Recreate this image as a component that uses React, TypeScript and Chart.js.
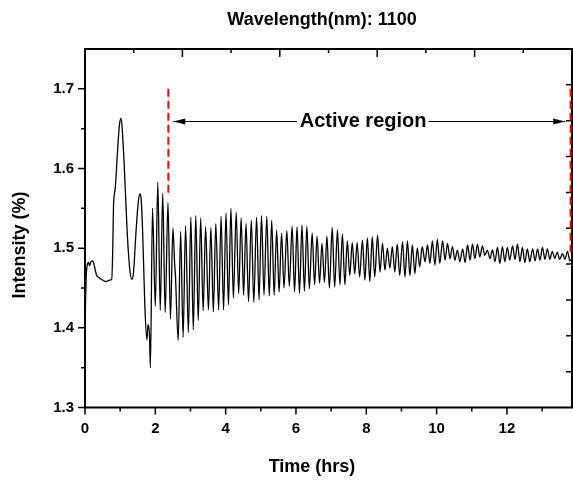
import React, { useEffect, useRef } from "react";
import { Chart, registerables } from "chart.js";
Chart.register(...registerables);

// ---------- data ----------
const timeHrs = [
  0, 0.03, 0.06, 0.1, 0.13, 0.17, 0.22, 0.27, 0.33, 0.4, 0.5, 0.6, 0.7, 0.76, 0.79, 0.81, 0.86, 0.93, 0.98, 1.02,
  1.05, 1.12, 1.2, 1.27, 1.33, 1.38, 1.45, 1.52, 1.565, 1.59, 1.64, 1.7, 1.76, 1.79, 1.83, 1.86, 1.92, 2.0, 2.07, 2.14,
  2.21, 2.28, 2.36, 2.43, 2.5, 2.55, 2.57, 2.65, 2.72, 2.79, 2.86, 2.94, 3.01, 3.08, 3.15, 3.22, 3.29, 3.36, 3.43, 3.51,
  3.58, 3.65, 3.72, 3.8, 3.87, 3.94, 4.01, 4.08, 4.15, 4.22, 4.3, 4.37, 4.44, 4.51, 4.58, 4.65, 4.73, 4.8, 4.88, 4.95,
  5.02, 5.09, 5.17, 5.24, 5.31, 5.38, 5.45, 5.52, 5.59, 5.66, 5.74, 5.81, 5.89, 5.96, 6.03, 6.1, 6.17, 6.24, 6.31, 6.38,
  6.46, 6.53, 6.6, 6.67, 6.74, 6.81, 6.88, 6.95, 7.03, 7.1, 7.18, 7.25, 7.32, 7.39, 7.46, 7.53, 7.6, 7.67, 7.74, 7.81,
  7.89, 7.96, 8.03, 8.1, 8.17, 8.24, 8.32, 8.39, 8.46, 8.53, 8.6, 8.67, 8.74, 8.81, 8.88, 8.95, 9.03, 9.1, 9.17, 9.24,
  9.31, 9.38, 9.45, 9.52, 9.59, 9.67, 9.74, 9.81, 9.88, 9.95, 10.02, 10.09, 10.17, 10.24, 10.31, 10.38, 10.45, 10.52, 10.59, 10.66,
  10.74, 10.81, 10.88, 10.95, 11.02, 11.09, 11.16, 11.23, 11.3, 11.37, 11.44, 11.52, 11.59, 11.66, 11.73, 11.8, 11.87, 11.94, 12.01, 12.08,
  12.16, 12.23, 12.3, 12.37, 12.44, 12.51, 12.58, 12.65, 12.73, 12.8, 12.87, 12.94, 13.01, 13.08, 13.15, 13.22, 13.29, 13.36, 13.43, 13.5,
  13.58, 13.65, 13.72, 13.79, 13.85,
];
const intensity = [
  1.40, 1.46, 1.478, 1.482, 1.478, 1.483, 1.484, 1.477, 1.466, 1.463, 1.46, 1.458, 1.46, 1.461, 1.5, 1.552, 1.575, 1.625, 1.655, 1.663,
  1.655, 1.6, 1.52, 1.475, 1.461, 1.47, 1.52, 1.56, 1.568, 1.565, 1.52, 1.43, 1.385, 1.404, 1.395, 1.35, 1.55, 1.427, 1.583, 1.422,
  1.569, 1.419, 1.557, 1.411, 1.525, 1.48, 1.468, 1.384, 1.521, 1.388, 1.528, 1.394, 1.539, 1.3975, 1.541, 1.409, 1.538, 1.421, 1.527, 1.4225,
  1.526, 1.42, 1.531, 1.4225, 1.54, 1.4225, 1.544, 1.429, 1.55, 1.437, 1.545, 1.443, 1.538, 1.441, 1.531, 1.433, 1.535, 1.432, 1.539, 1.435,
  1.541, 1.441, 1.54, 1.44, 1.535, 1.441, 1.5225, 1.445, 1.519, 1.45, 1.522, 1.452, 1.5275, 1.445, 1.527, 1.443, 1.529, 1.446, 1.5275, 1.449,
  1.519, 1.454, 1.515, 1.456, 1.506, 1.457, 1.515, 1.45, 1.526, 1.451, 1.523, 1.454, 1.518, 1.454, 1.509, 1.466, 1.507, 1.468, 1.507, 1.464,
  1.51, 1.46, 1.513, 1.458, 1.514, 1.464, 1.516, 1.47, 1.506, 1.4725, 1.5, 1.4746, 1.502, 1.47, 1.505, 1.466, 1.508, 1.464, 1.509, 1.466,
  1.504, 1.468, 1.5, 1.4767, 1.502, 1.483, 1.504, 1.481, 1.509, 1.479, 1.511, 1.481, 1.509, 1.485, 1.506, 1.487, 1.502, 1.485, 1.4975, 1.483,
  1.499, 1.482, 1.504, 1.485, 1.505, 1.487, 1.505, 1.489, 1.503, 1.491, 1.4975, 1.487, 1.498, 1.483, 1.501, 1.481, 1.502, 1.483, 1.501, 1.485,
  1.503, 1.486, 1.505, 1.483, 1.501, 1.482, 1.499, 1.483, 1.499, 1.484, 1.499, 1.485, 1.501, 1.486, 1.499, 1.486, 1.496, 1.487, 1.495, 1.486,
  1.493, 1.486, 1.496, 1.484, 1.487,
];

const xMajorTicks = [0, 2, 4, 6, 8, 10, 12];
const xMinorTicks = [1, 3, 5, 7, 9, 11, 13];
const yMajorTicks = [1.3, 1.4, 1.5, 1.6, 1.7];
const yMinorTicks = [1.35, 1.45, 1.55, 1.65];

// annotation values
const leftMarkerTime = [2.37, 2.37];
const leftMarkerLevel = [1.70, 1.566];
const rightMarkerTime = [13.81, 13.81];
const rightMarkerLevel = [1.70, 1.495];
const arrowLevel = 1.659;
const arrowTimes = [2.51, 6.03, 9.77, 13.655]; // left tip, gap start, gap end, right tip
const labelTime = 7.91;

const titleText = "Wavelength(nm): 1100";
const xTitle = "Time (hrs)";
const yTitle = "Intensity (%)";
const activeLabel = "Active region";

const FONT = '"Liberation Sans", Arial, sans-serif';

const decorPlugin = {
  id: "decor",
  beforeDatasetsDraw(chart: any) {
    const { ctx, chartArea: a, scales } = chart;
    const xs = scales.x, ys = scales.y;
    ctx.save();
    ctx.strokeStyle = "#000";
    ctx.lineWidth = 1.5;
    ctx.beginPath();
    xMajorTicks.forEach((v) => { const p = xs.getPixelForValue(v); ctx.moveTo(p, a.bottom); ctx.lineTo(p, a.bottom + 7); });
    xMinorTicks.forEach((v) => { const p = xs.getPixelForValue(v); ctx.moveTo(p, a.bottom); ctx.lineTo(p, a.bottom + 4); });
    yMajorTicks.forEach((v) => { const p = ys.getPixelForValue(v); ctx.moveTo(a.left, p); ctx.lineTo(a.left - 7, p); });
    yMinorTicks.forEach((v) => { const p = ys.getPixelForValue(v); ctx.moveTo(a.left, p); ctx.lineTo(a.left - 4, p); });
    const w = a.right - a.left, h = a.bottom - a.top;
    for (let i = 1; i < 10; i++) {
      const px = a.left + (i * w) / 10;
      ctx.moveTo(px, a.top); ctx.lineTo(px, a.top + (i % 2 === 0 ? 8 : 4));
      const py = a.bottom - (i * h) / 10;
      ctx.moveTo(a.right, py); ctx.lineTo(a.right - 6, py);
    }
    ctx.stroke();
    ctx.lineWidth = 2;
    ctx.strokeRect(a.left, a.top, w, h);
    ctx.restore();
  },
  afterDraw(chart: any) {
    const { ctx, scales } = chart;
    const xs = scales.x, ys = scales.y;
    ctx.save();
    ctx.fillStyle = "#000";
    ctx.textAlign = "center";
    ctx.textBaseline = "middle";
    ctx.font = `bold 18px ${FONT}`;
    ctx.fillText(titleText, 322, 20);
    ctx.fillText(xTitle, 312, 467);
    ctx.save();
    ctx.translate(20, 245);
    ctx.rotate(-Math.PI / 2);
    ctx.fillText(yTitle, 0, 0);
    ctx.restore();
    // active region label
    const ly = ys.getPixelForValue(arrowLevel);
    ctx.font = `bold 20px ${FONT}`;
    ctx.fillText(activeLabel, xs.getPixelForValue(labelTime), ly);
    // arrowheads
    const lt = xs.getPixelForValue(arrowTimes[0]);
    const rt = xs.getPixelForValue(arrowTimes[3]);
    ctx.beginPath();
    ctx.moveTo(lt, ly); ctx.lineTo(lt + 12, ly - 3); ctx.lineTo(lt + 12, ly + 3); ctx.closePath();
    ctx.moveTo(rt, ly); ctx.lineTo(rt - 12, ly - 3); ctx.lineTo(rt - 12, ly + 3); ctx.closePath();
    ctx.fill();
    ctx.restore();
  },
};

export default function App() {
  const ref = useRef<HTMLCanvasElement | null>(null);
  useEffect(() => {
    document.body.style.margin = "0";
    const canvas = ref.current!;
    Chart.defaults.font.family = FONT;
    const mainData = timeHrs.map((t, i) => ({ x: t, y: intensity[i] }));
    const chart = new Chart(canvas, {
      type: "line",
      data: {
        datasets: [
          {
            data: mainData,
            borderColor: "#000",
            borderWidth: 1.3,
            pointRadius: 0,
            cubicInterpolationMode: "monotone",
            fill: false,
          },
          {
            data: leftMarkerTime.map((t, i) => ({ x: t, y: leftMarkerLevel[i] })),
            borderColor: "#ff0000",
            borderWidth: 2,
            borderDash: [8, 4],
            pointRadius: 0,
          },
          {
            data: rightMarkerTime.map((t, i) => ({ x: t, y: rightMarkerLevel[i] })),
            borderColor: "#ff0000",
            borderWidth: 2,
            borderDash: [8, 4],
            pointRadius: 0,
          },
          {
            data: [
              { x: arrowTimes[0], y: arrowLevel },
              { x: arrowTimes[1], y: arrowLevel },
              { x: (arrowTimes[1] + arrowTimes[2]) / 2, y: null as any },
              { x: arrowTimes[2], y: arrowLevel },
              { x: arrowTimes[3], y: arrowLevel },
            ],
            borderColor: "#000",
            borderWidth: 1.2,
            pointRadius: 0,
            spanGaps: false,
          },
        ],
      },
      options: {
        responsive: false,
        animation: false,
        events: [],
        layout: { padding: { top: 49, right: 1, left: 0, bottom: 0 } },
        plugins: { legend: { display: false }, tooltip: { enabled: false }, title: { display: false } },
        scales: {
          x: {
            type: "linear",
            min: 0,
            max: 13.85,
            grid: { display: false, drawTicks: false },
            border: { display: false },
            ticks: {
              stepSize: 2,
              includeBounds: false,
              autoSkip: false,
              maxRotation: 0,
              padding: 12,
              color: "#000",
              font: { size: 15, weight: "bold" },
              callback: (v: any) => String(v),
            },
            afterFit: (s: any) => { s.height = 75.5; },
          },
          y: {
            type: "linear",
            min: 1.3,
            max: 1.75,
            grid: { display: false, drawTicks: false },
            border: { display: false },
            ticks: {
              stepSize: 0.1,
              includeBounds: false,
              padding: 11,
              color: "#000",
              font: { size: 15, weight: "bold" },
              callback: (v: any) => Number(v).toFixed(1),
            },
            afterFit: (s: any) => { s.width = 85; },
          },
        },
      },
      plugins: [decorPlugin],
    });
    return () => chart.destroy();
  }, []);
  return <canvas ref={ref} width={573} height={483} style={{ display: "block", width: 573, height: 483 }} />;
}
